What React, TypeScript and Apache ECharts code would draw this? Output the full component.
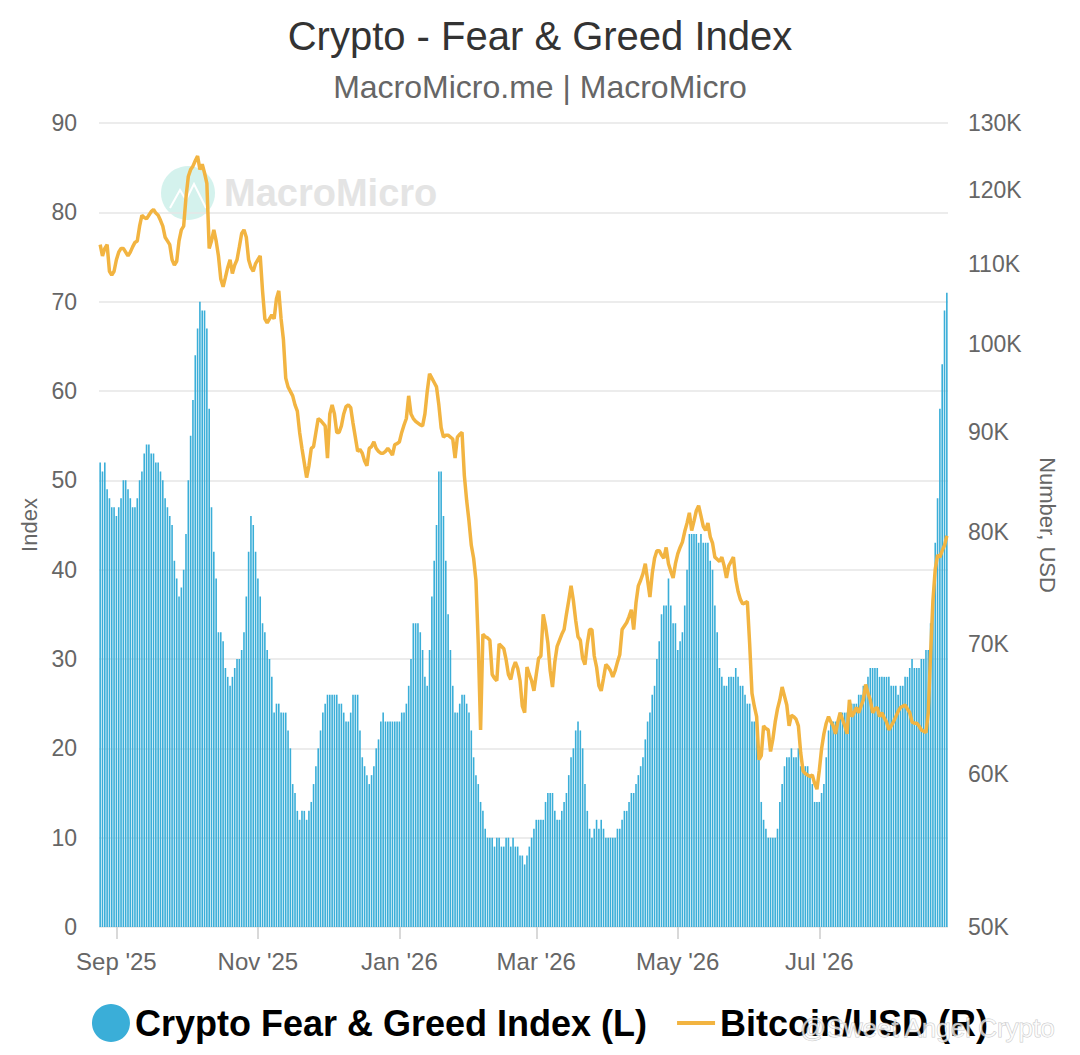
import React, { useEffect, useRef } from "react";
import * as echarts from "echarts";

// ---------- data ----------
const START_DATE = "2025-08-25"; // first daily bar
const DAY_MS = 86400000;

// Crypto Fear & Greed Index, daily (Aug 25 2025 -> Aug 25 2026)
const fearGreed = [
  52, 51, 52, 49, 48, 47, 47, 46, 47, 48,
  50, 50, 49, 48, 47, 47, 48, 50, 51, 53,
  54, 54, 53, 53, 52, 52, 51, 50, 48, 47,
  46, 45, 41, 39, 37, 38, 40, 44, 50, 55,
  59, 64, 67, 70, 69, 69, 67, 58, 47, 42,
  39, 33, 33, 32, 29, 28, 27, 28, 29, 30,
  30, 31, 33, 37, 42, 46, 45, 42, 39, 37,
  34, 33, 31, 30, 28, 24, 25, 25, 24, 24,
  24, 22, 20, 16, 15, 13, 12, 13, 13, 12,
  13, 14, 16, 18, 20, 22, 24, 25, 26, 26,
  26, 26, 26, 25, 25, 24, 23, 23, 24, 26,
  26, 26, 22, 19, 18, 17, 16, 17, 18, 20,
  21, 23, 24, 23, 23, 23, 23, 23, 23, 23,
  24, 24, 25, 27, 30, 34, 34, 34, 33, 31,
  28, 27, 31, 37, 41, 45, 51, 51, 46, 41,
  35, 31, 27, 24, 24, 25, 26, 26, 25, 24,
  22, 19, 17, 16, 14, 13, 11, 10, 10, 10,
  9, 10, 10, 9, 9, 10, 10, 9, 10, 9,
  9, 8, 8, 7, 8, 9, 10, 11, 12, 12,
  12, 12, 14, 15, 15, 15, 13, 12, 12, 13,
  14, 15, 17, 19, 20, 22, 23, 22, 20, 16,
  13, 11, 10, 11, 12, 11, 12, 11, 10, 10,
  10, 10, 10, 11, 11, 12, 13, 13, 14, 15,
  15, 16, 17, 18, 19, 21, 23, 24, 26, 27,
  30, 32, 35, 36, 36, 39, 36, 34, 34, 31,
  32, 33, 36, 40, 44, 44, 44, 44, 43, 44,
  43, 43, 43, 41, 40, 36, 33, 29, 28, 27,
  27, 28, 28, 28, 29, 28, 27, 27, 26, 25,
  25, 23, 23, 23, 19, 14, 12, 11, 10, 10,
  10, 10, 11, 14, 16, 18, 19, 19, 20, 19,
  19, 20, 18, 18, 18, 18, 17, 16, 14, 14,
  14, 15, 16, 19, 22, 23, 23, 23, 23, 24,
  24, 24, 24, 25, 25, 25, 25, 26, 26, 27,
  27, 28, 29, 29, 29, 29, 28, 28, 28, 28,
  28, 27, 27, 27, 26, 27, 27, 28, 28, 29,
  30, 29, 29, 29, 30, 30, 31, 31, 34, 37,
  43, 48, 58, 63, 69, 71,
];

// Bitcoin / USD, daily, in thousands of USD
const bitcoinK = [
  112.5, 111, 112, 112.5, 109, 108.5, 109, 110.5, 111.5, 112,
  112, 111.5, 111, 111.5, 112.2, 112.8, 113, 115, 116.5, 116.2,
  116, 116.5, 117, 117.3, 116.8, 116.5, 115.8, 115, 113.5, 113,
  112.5, 110.5, 109.8, 110.3, 113, 114.5, 115, 119, 122, 123,
  123.5, 124.3, 125, 123, 123.8, 122.5, 121, 112, 113, 114.5,
  113, 111, 108, 107, 108.2, 109.5, 110.5, 108.7, 109.8, 110.5,
  112.2, 114, 114.5, 113.5, 110.5, 109.5, 109, 110, 110.5, 111,
  106.5, 103, 102.5, 103, 103.5, 103, 105.5, 106.5, 103, 100.5,
  96, 95, 94.5, 94, 93, 92.3, 90, 88.3, 86.8, 85.3,
  86.5, 88.3, 88.5, 90, 91.5, 91.3, 91, 90.7, 87.3, 92,
  93, 92, 90, 90, 90.7, 92, 92.8, 93, 92.7, 91,
  89.5, 88, 88.2, 87.8, 87, 86.5, 88.3, 88.5, 89, 88.3,
  88, 87.8, 87.8, 88, 88.3, 88, 87.6, 88.7, 88.8, 89,
  90, 90.8, 91.5, 94, 92, 91.5, 91.2, 91, 90.8, 90.7,
  92, 94.5, 96.5, 96, 95.5, 95, 93, 90.5, 89.5, 89.7,
  89.7, 89.5, 89.3, 87.3, 89.5, 89.8, 90, 85.5, 83, 81,
  78.7, 77.5, 75.5, 70, 63.2, 70.8, 70.6, 70.5, 70.3, 67.5,
  67.2, 67, 70, 69.8, 69.6, 68.7, 67.5, 67.1, 68, 68.5,
  68, 67, 65, 64.5, 68.1, 67.5, 67, 66.2, 67.5, 68.8,
  69, 72.5, 71.5, 70.1, 67.8, 66.5, 68.5, 69.8, 70.3, 70.8,
  71.2, 72.5, 73.7, 75, 73.7, 72, 70.6, 70.3, 68.8, 68.3,
  70, 71.2, 71.2, 69, 68.1, 66.6, 66.2, 67.2, 68.3, 68.1,
  67.8, 67.3, 67.8, 68.5, 69.1, 71.2, 71.5, 71.8, 72.3, 72.9,
  71.2, 73.5, 75, 75.5, 76.1, 77, 75.5, 74, 76.1, 77.5,
  78.2, 78.2, 77.8, 77.5, 78.5, 77, 76.3, 75.7, 77, 77.9,
  78.5, 79, 80, 80.8, 81.8, 80.1, 81, 82, 82.5, 81.5,
  80.5, 80.1, 80.8, 79.5, 78.9, 77.6, 77.4, 77.2, 77.6, 76.8,
  75.7, 76.8, 77.2, 77.6, 75.6, 74.5, 73.8, 73.4, 73.5, 73.6,
  70, 66, 65, 64.2, 61, 61.3, 63.5, 63.3, 63.2, 61.6,
  62.5, 63.8, 64.8, 65.5, 66.5, 65.8, 65.1, 63.5, 64.3, 64.2,
  64, 63.5, 61.5, 60.2, 60, 59.9, 59.8, 59.9, 59.3, 58.9,
  60.2, 61.8, 62.9, 63.7, 64.2, 63.8, 63.5, 62.9, 63.8, 64.5,
  64, 63.5, 62.9, 65.5, 64.2, 64.5, 64.9, 64.5, 65, 65.5,
  66.7, 66, 65.5, 64.5, 64.8, 64.9, 64.2, 64.5, 64.1, 63.8,
  63.2, 63.5, 63.8, 64.2, 64.6, 64.9, 65, 65.1, 64.8, 64.5,
  63.8, 63.7, 63.7, 63.5, 63.2, 63.1, 63, 64.5, 69.2, 73.7,
  76.5, 77.8, 77.6, 78.2, 78.7, 79.6,
];

const xTickDates = ["2025-09-01", "2025-11-01", "2026-01-01", "2026-03-01", "2026-05-01", "2026-07-01"];
const xTickLabels = ["Sep '25", "Nov '25", "Jan '26", "Mar '26", "May '26", "Jul '26"];
const leftTicks = { min: 0, max: 90, interval: 10 };
const rightTicksK = [50, 60, 70, 80, 90, 100, 110, 120, 130];

const SERIES_FG = "Crypto Fear & Greed Index (L)";
const SERIES_BTC = "Bitcoin/USD (R)";

// ---------- chart ----------
const FONT = "'Liberation Sans', Arial, Helvetica, sans-serif";

function toTs(iso: string) {
  const [y, m, d] = iso.split("-").map(Number);
  return Date.UTC(y, m - 1, d);
}

export default function App() {
  const ref = useRef<HTMLDivElement>(null);

  useEffect(() => {
    if (!ref.current) return;
    const chart = echarts.init(ref.current, undefined, { renderer: "svg" });
    const start = toTs(START_DATE);
    const fgData = fearGreed.map((v, i) => [start + i * DAY_MS, v]);
    const btcData = bitcoinK.map((v, i) => [start + i * DAY_MS, v]);
    const tickTs = xTickDates.map(toTs);
    const lastTs = start + (fearGreed.length - 1) * DAY_MS;

    chart.setOption({
      animation: false,
      backgroundColor: "#ffffff",
      textStyle: { fontFamily: FONT },
      title: {
        text: "Crypto - Fear & Greed Index",
        subtext: "MacroMicro.me | MacroMicro",
        left: "center",
        top: 11,
        itemGap: 15,
        textStyle: { fontSize: 40, fontWeight: "normal", color: "#333333", fontFamily: FONT },
        subtextStyle: { fontSize: 32, color: "#666666", fontFamily: FONT },
      },
      grid: { left: 99, right: 132, top: 123, bottom: 128 },
      legend: {
        bottom: 8,
        left: "center",
        itemWidth: 38,
        itemHeight: 38,
        itemGap: 30,
        textStyle: { fontSize: 36, color: "#000000", fontWeight: "bold", fontFamily: FONT },
        data: [
          { name: SERIES_FG, icon: "circle" },
          { name: SERIES_BTC, icon: "path://M0 0H40V4H0Z" },
        ],
      },
      xAxis: {
        type: "value",
        min: start - DAY_MS / 2,
        max: lastTs + DAY_MS / 2,
        axisLine: { show: false },
        splitLine: { show: false },
        axisTick: {
          show: true,
          customValues: tickTs,
          length: 12,
          lineStyle: { color: "#cccccc", width: 1.5 },
        },
        axisLabel: {
          customValues: tickTs,
          fontSize: 24,
          color: "#666666",
          margin: 22,
          formatter: (val: number) => {
            const idx = tickTs.indexOf(val);
            return idx >= 0 ? xTickLabels[idx] : "";
          },
        },
      },
      yAxis: [
        {
          type: "value",
          position: "left",
          min: leftTicks.min,
          max: leftTicks.max,
          interval: leftTicks.interval,
          name: "Index",
          nameLocation: "middle",
          nameGap: 56,
          nameTextStyle: { fontSize: 22, color: "#666666" },
          axisLine: { show: false },
          axisTick: { show: false },
          axisLabel: { fontSize: 23, color: "#666666", margin: 22 },
          splitLine: { lineStyle: { color: "#e6e6e6", width: 1.5 } },
        },
        {
          type: "log",
          logBase: 10,
          position: "right",
          min: rightTicksK[0],
          max: rightTicksK[rightTicksK.length - 1],
          name: "Number, USD",
          nameLocation: "middle",
          nameRotate: -90,
          nameGap: 88,
          nameTextStyle: { fontSize: 22, color: "#666666" },
          axisLine: { show: false },
          axisTick: { show: false },
          splitLine: { show: false },
          axisLabel: {
            customValues: rightTicksK,
            fontSize: 23,
            color: "#666666",
            margin: 20,
            formatter: (v: number) => `${Math.round(v)}K`,
          },
        },
      ],
      graphic: [
        {
          type: "circle",
          shape: { cx: 188, cy: 193, r: 27 },
          style: { fill: "#c9efe9", opacity: 0.8 },
          z: 0,
          silent: true,
        },
        {
          type: "polyline",
          shape: { points: [[170, 208], [180, 190], [186, 200], [194, 184], [206, 208]] },
          style: { stroke: "#ffffff", lineWidth: 2, fill: "none" },
          z: 0,
          silent: true,
        },
        {
          type: "text",
          x: 224,
          y: 193,
          style: {
            text: "MacroMicro",
            fontSize: 38,
            fontWeight: "bold",
            fontFamily: FONT,
            fill: "#e4e4e4",
            verticalAlign: "middle",
          },
          z: 0,
          silent: true,
        },
        {
          type: "text",
          x: 800,
          y: 1028,
          style: {
            text: "@Sweet Angel Crypto",
            fontSize: 26,
            fontFamily: FONT,
            fill: "rgba(255,255,255,0.75)",
            stroke: "rgba(150,150,150,0.55)",
            lineWidth: 1,
            verticalAlign: "middle",
          },
          z: 100,
          silent: true,
        },
      ],
      series: [
        {
          name: SERIES_FG,
          type: "bar",
          yAxisIndex: 0,
          data: fgData,
          barWidth: 1.6,
          itemStyle: { color: "#3aaed8" },
          z: 2,
        },
        {
          name: SERIES_BTC,
          type: "line",
          yAxisIndex: 1,
          data: btcData,
          showSymbol: false,
          symbol: "none",
          lineStyle: { color: "#f2b441", width: 3.5 },
          itemStyle: { color: "#f2b441" },
          z: 3,
        },
      ],
    });

    return () => chart.dispose();
  }, []);

  return (
    <div
      ref={ref}
      style={{ position: "fixed", left: 0, top: 0, width: 1080, height: 1055, background: "#fff" }}
    />
  );
}
